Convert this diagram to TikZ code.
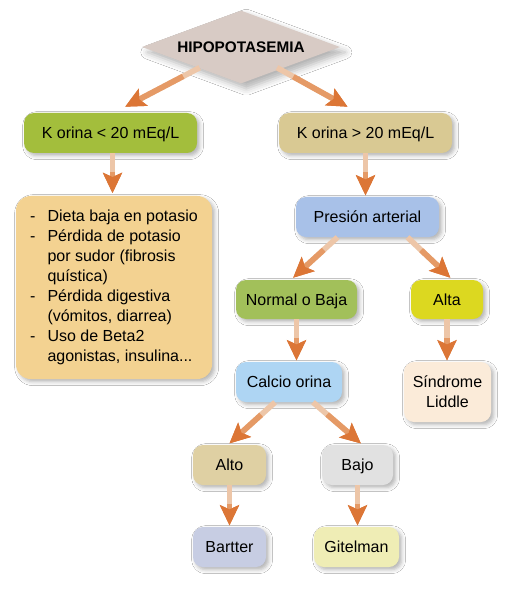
\documentclass[tikz,border=0pt]{standalone}
\usepackage{fontspec}
\setmainfont{Liberation Sans}
\usetikzlibrary{arrows.meta, shapes.geometric, shadows.blur}
\definecolor{hipofill}{HTML}{D8CBC5}
\definecolor{kbajafill}{HTML}{A3BE3C}
\definecolor{kaltafill}{HTML}{D9C993}
\definecolor{listfill}{HTML}{F3D291}
\definecolor{presfill}{HTML}{A8C1E8}
\definecolor{normfill}{HTML}{A2C05A}
\definecolor{altafill}{HTML}{DCD820}
\definecolor{calcfill}{HTML}{AED5F3}
\definecolor{liddfill}{HTML}{FBEBD9}
\definecolor{altofill}{HTML}{DFD0A3}
\definecolor{bajofill}{HTML}{E1E1E1}
\definecolor{bartfill}{HTML}{C7CDE3}
\definecolor{gitfill}{HTML}{EFEDB5}
\definecolor{arrowtail}{HTML}{EDC6A8}
\definecolor{arrowmid}{HTML}{E59A66}
\definecolor{arrowhead}{HTML}{DC7636}

\begin{document}
\begin{tikzpicture}[x=0.75pt, y=-0.75pt,
  box/.style={rectangle, rounded corners=7.5pt, minimum height=30pt,
              text height=8.6pt, text depth=0pt, font=\fontsize{12}{15}\selectfont,
              blur shadow={shadow xshift=2pt, shadow yshift=-2pt, shadow blur radius=3pt, shadow opacity=30}},
  multi/.style={align=center, text height=, text depth=},
  dia/.style={diamond, aspect=2.7, fill=hipofill, minimum width=148.5pt, minimum height=54.75pt,
              inner sep=0pt, font=\bfseries\fontsize{11.5}{13}\selectfont,
              blur shadow={shadow xshift=4pt, shadow yshift=-4pt, shadow blur radius=5pt, shadow opacity=30}},
  arr/.style={draw=arrowtail, line width=4.2pt,
              -{Stealth[length=15pt, width=14pt, inset=3pt, color=arrowhead]},
              postaction={draw=arrowmid, line width=4.2pt, shorten <=14pt}},
]
\useasboundingbox (0,0) rectangle (517,595);
\fill[white] (0,0) rectangle (517,595);
% top of the tree
\node[dia] (hipo) at (241,47) {HIPOPOTASEMIA};
\node[box, fill=kbajafill, minimum width=129.75pt] (kbaja) at (110.5,133) {K orina < 20 mEq/L};
\node[box, fill=kaltafill, minimum width=129.75pt] (kalta) at (365.5,133) {K orina > 20 mEq/L};
% left branch: causes list
\node[box, multi, fill=listfill, minimum width=147pt, minimum height=137.25pt, rounded corners=11pt] (lista) at (114,287.5) {%
  \begin{tabular}{@{}l@{\hspace{9pt}}l@{}}
  - & Dieta baja en potasio\\
  - & Pérdida de potasio\\
    & por sudor (fibrosis\\
    & quística)\\
  - & Pérdida digestiva\\
    & (vómitos, diarrea)\\
  - & Uso de Beta2\\
    & agonistas, insulina...
  \end{tabular}};
% right branch
\node[box, fill=presfill, minimum width=107.25pt] (presion) at (367.5,217) {Presión arterial};
\node[box, fill=normfill, minimum width=90.75pt, minimum height=29.25pt] (normal) at (296.5,299.5) {Normal o Baja};
\node[box, fill=altafill, minimum width=54pt, minimum height=29.25pt] (alta) at (447,299.5) {Alta};
\node[box, fill=calcfill, minimum width=79.5pt] (calcio) at (289,382) {Calcio orina};
\node[box, multi, fill=liddfill, minimum width=65.25pt, minimum height=45pt] (liddle) at (447.5,392) {Síndrome\\Liddle};
\node[box, fill=altofill, minimum width=54.75pt] (alto) at (229.5,465) {Alto};
\node[box, fill=bajofill, minimum width=53.25pt] (bajo) at (357.5,465) {Bajo};
\node[box, fill=bartfill, minimum width=54.75pt] (bartter) at (229.5,547) {Bartter};
\node[box, fill=gitfill, minimum width=63.75pt] (gitelman) at (356.5,547) {Gitelman};
% connectors
\draw[arr] ([xshift=-31pt, yshift=-15.5pt]hipo.center) -- ([xshift=11pt, yshift=4.5pt]kbaja.north);
\draw[arr] ([xshift=27pt, yshift=-15.5pt]hipo.center) -- ([xshift=-13.5pt, yshift=4.5pt]kalta.north);
\draw[arr] ([xshift=1.5pt]kbaja.south) -- ([xshift=1.5pt, yshift=2pt]kbaja.south |- lista.north);
\draw[arr] (kalta.south) -- ([yshift=1pt]kalta.south |- presion.north);
\draw[arr] ([xshift=-22.5pt]presion.south) -- ([xshift=-2.5pt, yshift=1.5pt]normal.north);
\draw[arr] ([xshift=30pt]presion.south) -- ([xshift=2.5pt, yshift=1.5pt]alta.north);
\draw[arr] (normal.south) -- ([yshift=1pt]normal.south |- calcio.north);
\draw[arr] (alta.south) -- ([yshift=1pt]alta.south |- liddle.north);
\draw[arr] ([xshift=-10.5pt]calcio.south) -- ([yshift=1pt]alto.north);
\draw[arr] ([xshift=18pt]calcio.south) -- ([xshift=2.5pt, yshift=1pt]bajo.north);
\draw[arr] (alto.south) -- ([yshift=1pt]bartter.north);
\draw[arr] (bajo.south) -- ([yshift=1pt]bajo.south |- gitelman.north);
\end{tikzpicture}
\end{document}
